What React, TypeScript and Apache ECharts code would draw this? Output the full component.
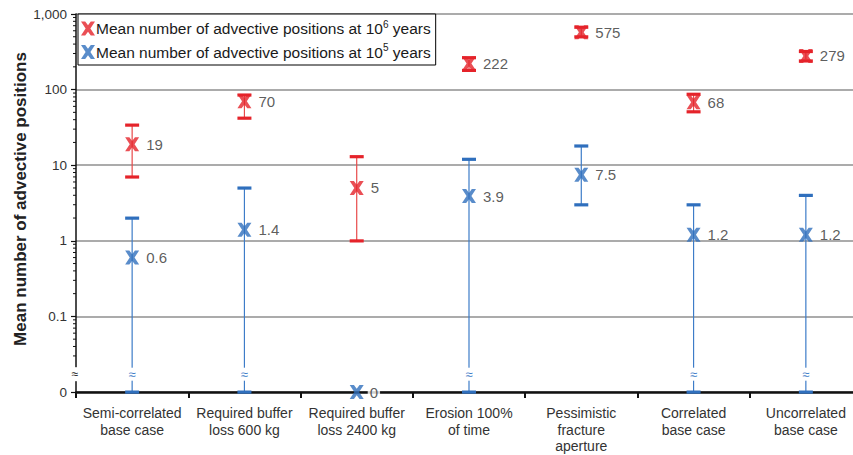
import React, { useEffect, useRef } from "react";
import * as echarts from "echarts";

const categories = [
  "Semi-correlated\nbase case",
  "Required buffer\nloss 600 kg",
  "Required buffer\nloss 2400 kg",
  "Erosion 100%\nof time",
  "Pessimistic\nfracture\naperture",
  "Correlated\nbase case",
  "Uncorrelated\nbase case",
];
const mean1e6 = [19, 70, 5, 222, 575, 68, 279];
const low1e6 = [7, 42, 1, 180, 500, 51, 240];
const high1e6 = [34, 85, 13, 265, 670, 87, 320];
const mean1e5 = [0.6, 1.4, 0, 3.9, 7.5, 1.2, 1.2];
const low1e5: (number | null)[] = [0, 0, null, 0, 3, 0, 0];
const high1e5: (number | null)[] = [2, 5, null, 12, 18, 3, 4];
const yTickLabels = ["0", "0.1", "1", "10", "100", "1,000"];
const minorTickValues = [2, 3, 4, 5, 6, 7, 8, 9];
const decades = [0.01, 0.1, 1, 10, 100];

const AXIS_ZERO = 0.01; // position at which "0" is drawn on the log axis
const BREAK_VALUE = 0.0172; // position of the axis break mark

const NAME6 = "Mean number of advective positions at 10^6 years";
const NAME5 = "Mean number of advective positions at 10^5 years";

const RED = "#e5232a";
const RED_LINE = "#e84a4a";
const BLUE = "#2f6fbd";
const BLUE_LINE = "#3d7cc8";
const FONT = "'Liberation Sans', Arial, sans-serif";

const X_SYMBOL =
  "path://M0,0 L4.2,0 L7,3.8 L9.8,0 L14,0 L9.4,7 L14,14 L9.8,14 L7,10.2 L4.2,14 L0,14 L4.6,7 Z";

const toPlot = (v: number) => (v <= 0 ? AXIS_ZERO : v);

export default function App() {
  const ref = useRef<HTMLDivElement>(null);
  useEffect(() => {
    if (!ref.current) return;
    const chart = echarts.init(ref.current, null, { renderer: "svg" });

    const errRed = categories.map((_, i) => [i, toPlot(low1e6[i]), high1e6[i], 0]);
    const errBlue: any[] = [];
    categories.forEach((_, i) => {
      const lo = low1e5[i];
      const hi = high1e5[i];
      if (lo === null || hi === null) return;
      errBlue.push([i, toPlot(lo), hi, lo === 0 ? 1 : 0]);
    });

    const minorData: any[] = [];
    decades.forEach((d) => minorTickValues.forEach((m) => minorData.push([0, +(d * m).toPrecision(3)])));

    const makeErr = (color: string, lineColor: string) => (params: any, api: any) => {
      const i = api.value(0);
      const lo = api.value(1);
      const hi = api.value(2);
      const brk = api.value(3);
      const top = api.coord([i, hi]);
      const bot = api.coord([i, lo]);
      const children: any[] = [
        {
          type: "line",
          shape: { x1: top[0], y1: top[1], x2: bot[0], y2: bot[1] },
          style: { stroke: lineColor, lineWidth: 1.2 },
        },
        { type: "rect", shape: { x: top[0] - 7, y: top[1] - 1.5, width: 14, height: 3.2 }, style: { fill: color } },
        { type: "rect", shape: { x: bot[0] - 7, y: bot[1] - 1.5, width: 14, height: 3.2 }, style: { fill: color } },
      ];
      if (brk) {
        const b = api.coord([i, BREAK_VALUE]);
        children.push({
          type: "text",
          x: b[0],
          y: b[1],
          style: {
            text: "≈",
            fill: lineColor,
            font: `13px ${FONT}`,
            align: "center",
            verticalAlign: "middle",
            backgroundColor: "#ffffff",
            padding: [0, 1],
          },
        });
      }
      return { type: "group", children };
    };

    const option: any = {
      animation: false,
      textStyle: { fontFamily: FONT },
      grid: { left: 76, top: 14, bottom: 63, right: 0, containLabel: false, outerBoundsMode: "none" },
      legend: {
        data: [NAME6, NAME5],
        orient: "vertical",
        left: 78,
        top: 14,
        padding: [5, 5, 5, 3],
        itemGap: 6,
        itemWidth: 14,
        itemHeight: 14,
        backgroundColor: "#ffffff",
        borderColor: "#000000",
        borderWidth: 1,
        borderRadius: 0,
        formatter: (name: string) =>
          name === NAME6
            ? "{t|Mean number of advective positions at 10}{s|6}{t| years}"
            : "{t|Mean number of advective positions at 10}{s|5}{t| years}",
        textStyle: {
          color: "#1a1a1a",
          padding: [0, 0, 0, -4],
          rich: {
            t: { fontSize: 15.5, fontFamily: FONT, color: "#1a1a1a" },
            s: { fontSize: 10, fontFamily: FONT, color: "#1a1a1a", padding: [0, 0, 9, 0] },
          },
        },
      },
      graphic: [
        {
          type: "text",
          x: 20,
          y: 199,
          rotation: Math.PI / 2,
          style: {
            text: "Mean number of advective positions",
            font: `bold 17px ${FONT}`,
            fill: "#222",
            align: "center",
            verticalAlign: "middle",
          },
        },
      ],
      xAxis: {
        type: "category",
        data: categories,
        boundaryGap: true,
        axisLine: { lineStyle: { color: "#111", width: 2.5 } },
        axisTick: { show: true, interval: 0, length: 6, lineStyle: { color: "#111", width: 2 } },
        axisLabel: { interval: 0, color: "#333", fontSize: 14, lineHeight: 16.5, margin: 13, fontFamily: FONT },
        splitLine: { show: false },
      },
      yAxis: {
        type: "log",
        logBase: 10,
        min: AXIS_ZERO,
        max: 1000,
        axisLine: { show: true, lineStyle: { color: "#111", width: 1.5 } },
        axisTick: { show: true, length: 5, lineStyle: { color: "#111", width: 1.2 } },
        axisLabel: {
          color: "#333",
          fontSize: 13.5,
          margin: 9,
          fontFamily: FONT,
          formatter: (v: number) => {
            const k = Math.round(Math.log10(v)) + 2;
            return yTickLabels[k] ?? "";
          },
        },
        splitLine: { show: true, lineStyle: { color: "#8f8f8f", width: 1.5 } },
      },
      series: [
        {
          type: "custom",
          name: "minorTicks",
          silent: true,
          data: minorData,
          z: 3,
          renderItem: (params: any, api: any) => {
            const p = api.coord([0, api.value(1)]);
            const x0 = params.coordSys.x;
            return {
              type: "line",
              shape: { x1: x0 - 3, y1: p[1], x2: x0, y2: p[1] },
              style: { stroke: "#111", lineWidth: 1 },
            };
          },
        },
        {
          type: "custom",
          name: "axisBreak",
          silent: true,
          data: [[0, BREAK_VALUE]],
          z: 4,
          renderItem: (params: any, api: any) => {
            const p = api.coord([0, api.value(1)]);
            const x0 = params.coordSys.x;
            return {
              type: "text",
              x: x0 - 1,
              y: p[1],
              style: {
                text: "≈",
                fill: "#111",
                font: `12px ${FONT}`,
                align: "center",
                verticalAlign: "middle",
                backgroundColor: "#ffffff",
                padding: [1, 1],
              },
            };
          },
        },
        {
          type: "custom",
          name: "err6",
          silent: true,
          data: errRed,
          z: 5,
          renderItem: makeErr(RED, RED_LINE),
        },
        {
          type: "custom",
          name: "err5",
          silent: true,
          data: errBlue,
          z: 5,
          renderItem: makeErr(BLUE, BLUE_LINE),
        },
        {
          type: "scatter",
          name: NAME6,
          symbol: X_SYMBOL,
          symbolSize: 14,
          itemStyle: { color: RED },
          z: 10,
          data: mean1e6.map((v, i) => [i, toPlot(v)]),
          label: {
            show: true,
            position: "right",
            distance: 7,
            color: "#333",
            fontSize: 15,
            fontFamily: FONT,
            formatter: (p: any) => String(mean1e6[p.dataIndex]),
          },
        },
        {
          type: "scatter",
          name: NAME5,
          symbol: X_SYMBOL,
          symbolSize: 14,
          itemStyle: { color: BLUE },
          z: 10,
          clip: false,
          data: mean1e5.map((v, i) =>
            v === 0
              ? {
                  value: [i, toPlot(v)],
                  label: { backgroundColor: "#ffffff", padding: [0, 2, 0, 2], distance: 4 },
                }
              : [i, toPlot(v)]
          ),
          label: {
            show: true,
            position: "right",
            distance: 7,
            color: "#333",
            fontSize: 15,
            fontFamily: FONT,
            formatter: (p: any) => String(mean1e5[p.dataIndex]),
          },
        },
      ],
    };
    chart.setOption(option);
    return () => chart.dispose();
  }, []);
  return (
    <div style={{ position: "fixed", left: 0, top: 0, width: 853, height: 455, overflow: "hidden", background: "#fff" }}>
      <div ref={ref} style={{ position: "absolute", left: 0, top: 0, width: 862, height: 455 }} />
    </div>
  );
}
